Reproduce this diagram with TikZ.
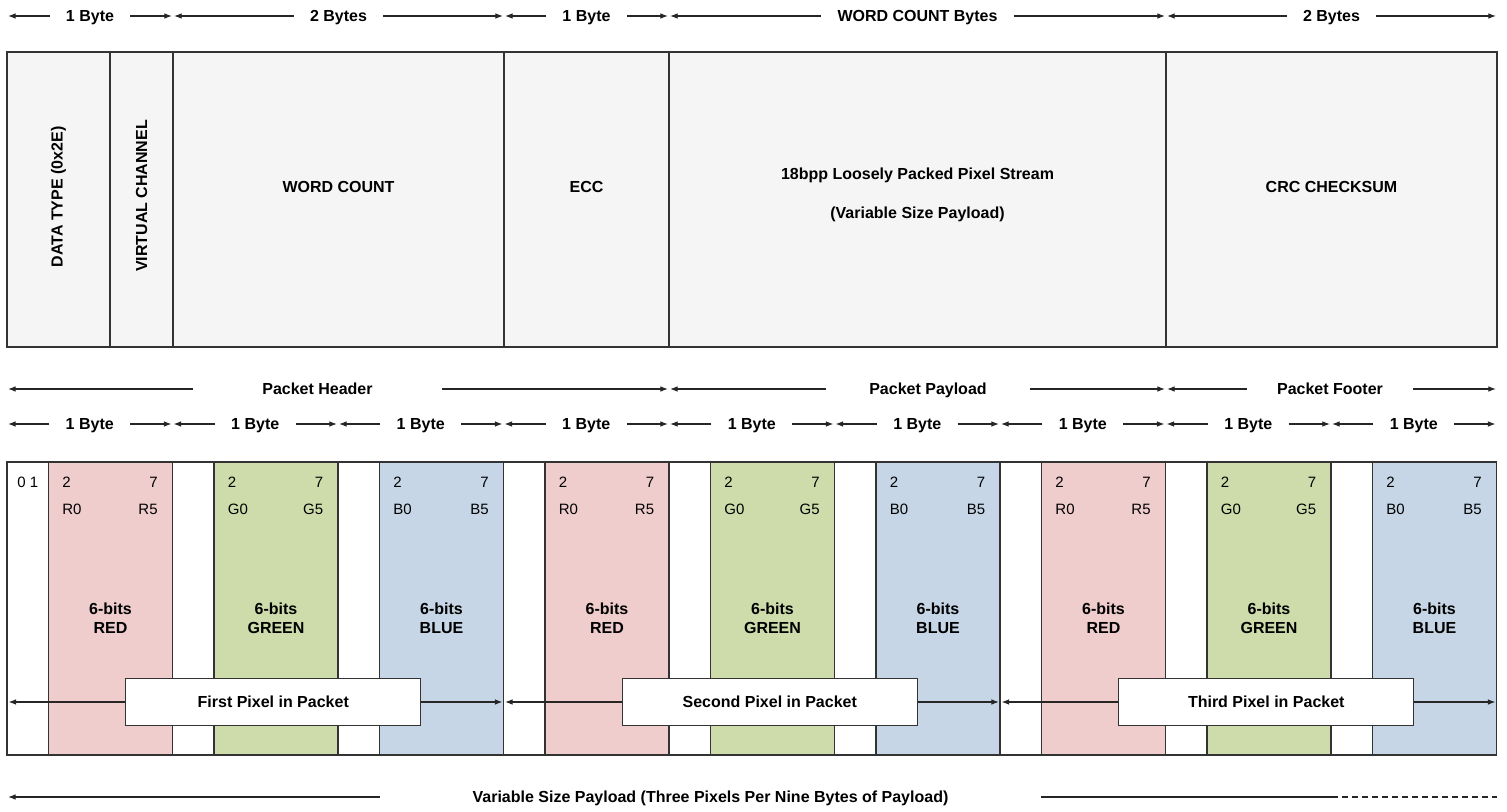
\documentclass[tikz,border=0pt]{standalone}
\usepackage{fontspec}
\setmainfont{Liberation Sans}
\usepackage{tikz}
\usetikzlibrary{arrows.meta}
\definecolor{fieldgray}{HTML}{F5F5F5}
\definecolor{redbits}{HTML}{EECDCC}
\definecolor{greenbits}{HTML}{CDDCAA}
\definecolor{bluebits}{HTML}{C6D6E6}
\definecolor{edgegray}{HTML}{333333}
\tikzset{
  field/.style    = {draw=edgegray, line width=0.7pt, fill=fieldgray},
  cell/.style     = {draw=edgegray, line width=0.7pt},
  sizelbl/.style  = {font=\fontsize{8}{9.5}\selectfont\bfseries, inner xsep=8pt, inner ysep=1pt,
                     text height=5.7pt, text depth=0pt},
  fieldlbl/.style = {font=\fontsize{8}{9.5}\selectfont\bfseries, inner sep=1pt},
  bitlbl/.style   = {font=\fontsize{7.5}{9}\selectfont, inner sep=0pt},
  colorlbl/.style = {font=\fontsize{8}{9.5}\selectfont\bfseries, align=center, inner sep=0pt},
  pixbox/.style   = {draw=edgegray, line width=0.7pt, fill=white, minimum width=147.5pt, minimum height=23.5pt,
                     font=\fontsize{8}{9.5}\selectfont\bfseries},
  tip/.style      = {-{Latex[length=3.8pt,width=2.8pt]}, line width=0.55pt, draw=black!85},
  plainline/.style= {line width=0.55pt, draw=black!85},
}
\begin{document}
\begin{tikzpicture}[x=0.5pt, y=-0.5pt]
  \useasboundingbox (0,0) rectangle (1507,812);

  % ── Field sizes (top) ───────────────────────────────────────
  \foreach \xa/\xb/\txt [count=\i] in {7/173/1 Byte, 173/504/2 Bytes, 504/669/1 Byte,
                                      669/1166/WORD COUNT Bytes, 1166/1497/2 Bytes} {
    \node[sizelbl] (sz\i) at ({(\xa+\xb)/2},16) {\txt};
    \coordinate (szL\i) at ({\xa+1},16);
    \coordinate (szR\i) at ({\xb-1},16);
    \draw[tip] (sz\i.west) -- (szL\i);
    \draw[tip] (sz\i.east) -- (szR\i);
  }

  % ── Packet fields ───────────────────────────────────────────
  \foreach \xa/\xb in {7/110, 110/173, 173/504, 504/669, 669/1166, 1166/1497}
    \draw[field] (\xa,52) rectangle (\xb,347);
  \node[fieldlbl, rotate=90] (dtype)   at (58.5,197)   {DATA TYPE (0x2E)};
  \node[fieldlbl, rotate=90] (vchan)   at (141.5,196)  {VIRTUAL CHANNEL};
  \node[fieldlbl]            (wcount)  at (338.5,187)  {WORD COUNT};
  \node[fieldlbl]            (ecc)     at (586.5,187)  {ECC};
  \node[fieldlbl]            (stream)  at (917.5,175)  {18bpp Loosely Packed Pixel Stream};
  \node[fieldlbl]            (varsize) at (917.5,214)  {(Variable Size Payload)};
  \node[fieldlbl]            (crc)     at (1331.5,187) {CRC CHECKSUM};

  % ── Header / payload / footer ───────────────────────────────
  \foreach \xa/\xb/\xc/\gap/\txt [count=\i] in {7/317.5/669/124.5pt/Packet Header,
                                                669/928/1166/102pt/Packet Payload,
                                                1166/1330/1497/83pt/Packet Footer} {
    \node[sizelbl, minimum width=\gap] (part\i) at (\xb,389) {\txt};
    \coordinate (partL\i) at ({\xa+1},389);
    \coordinate (partR\i) at ({\xc-1},389);
    \draw[tip] (part\i.west) -- (partL\i);
    \draw[tip] (part\i.east) -- (partR\i);
  }

  % ── Byte sizes ──────────────────────────────────────────────
  \foreach \k [evaluate=\k as \xa using 7+165.5*\k] in {0,...,8} {
    \node[sizelbl] (byte\k) at (\xa+82.75,424) {1 Byte};
    \coordinate (byteL\k) at (\xa+1,424);
    \coordinate (byteR\k) at (\xa+164.5,424);
    \draw[tip] (byte\k.west) -- (byteL\k);
    \draw[tip] (byte\k.east) -- (byteR\k);
  }

  % ── Pixel bytes ─────────────────────────────────────────────
  \foreach \k/\col/\ch/\name [evaluate=\k as \xa using 7+165.5*\k] in
      {0/redbits/R/RED, 1/greenbits/G/GREEN, 2/bluebits/B/BLUE,
       3/redbits/R/RED, 4/greenbits/G/GREEN, 5/bluebits/B/BLUE,
       6/redbits/R/RED, 7/greenbits/G/GREEN, 8/bluebits/B/BLUE} {
    \draw[cell, fill=white] (\xa,462) rectangle (\xa+41.4,755);
    \draw[cell, fill=\col]  (\xa+41.4,462) rectangle (\xa+165.5,755);
    \node[bitlbl, anchor=west] (lo\k)    at (\xa+55,482)  {2};
    \node[bitlbl, anchor=east] (hi\k)    at (\xa+151,482) {7};
    \node[bitlbl, anchor=west] (first\k) at (\xa+55,509)  {\ch0};
    \node[bitlbl, anchor=east] (last\k)  at (\xa+151,509) {\ch5};
    \node[colorlbl] (color\k) at (\xa+103.5,618.5) {6-bits\\\name};
  }
  \node[bitlbl, anchor=west] (pad01) at (17,482) {0 1};

  % ── Pixels ──────────────────────────────────────────────────
  \foreach \p/\ord [evaluate=\p as \xa using 7+496.5*\p] in {0/First, 1/Second, 2/Third} {
    \node[pixbox] (pix\p) at (\xa+266.25,702) {\ord{} Pixel in Packet};
    \coordinate (pixL\p) at (\xa+1.5,702);
    \coordinate (pixR\p) at (\xa+495.5,702);
    \draw[tip] (pix\p.west) -- (pixL\p);
    \draw[tip] (pix\p.east) -- (pixR\p);
  }

  % ── Whole payload ───────────────────────────────────────────
  \node[sizelbl, minimum width=330.5pt] (varlbl) at (710.5,797)
    {Variable Size Payload (Three Pixels Per Nine Bytes of Payload)};
  \coordinate (varL) at (8,797);
  \coordinate (varM) at (1331.5,797);
  \coordinate (varR) at (1497,797);
  \draw[tip] (varlbl.west) -- (varL);
  \draw[plainline] (varlbl.east) -- (varM);
  \draw[plainline, dash pattern=on 3pt off 2pt] (varM) -- (varR);
\end{tikzpicture}
\end{document}
